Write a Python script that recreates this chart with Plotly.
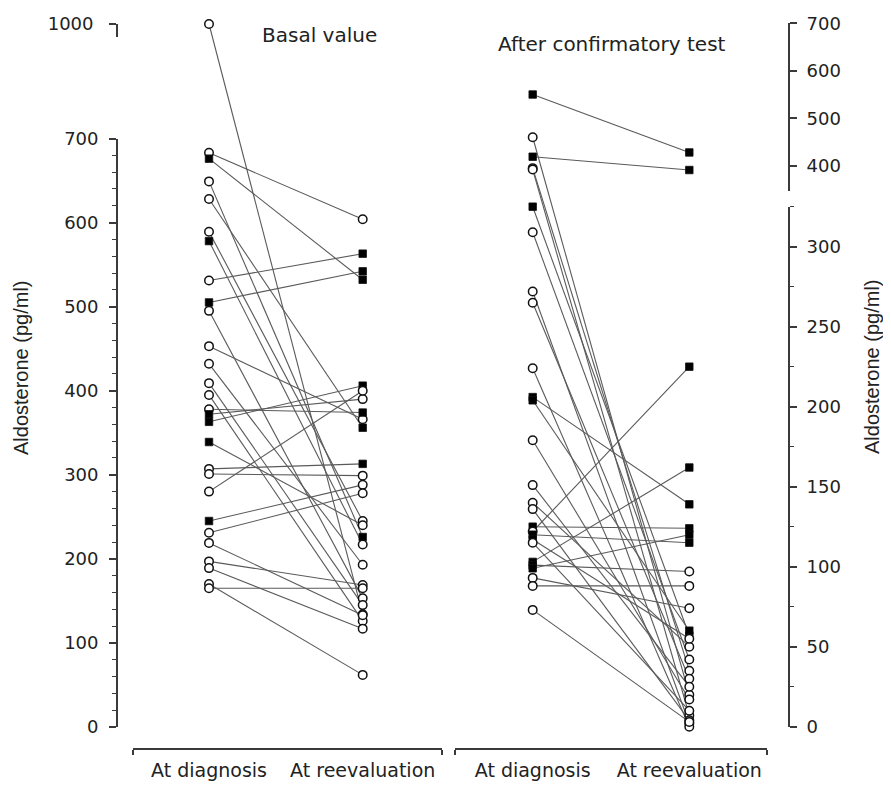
import plotly.graph_objects as go

# ---------------- data (pg/ml) ----------------
# Left panel: basal aldosterone
basal_diag = [1000, 683, 676, 649, 628, 589, 578, 531, 505, 495, 453, 432, 409, 395,
              378, 372, 363, 339, 307, 301, 280, 245, 231, 219, 197, 189, 170, 165]
basal_reev = [134, 604, 532, 226, 356, 245, 217, 563, 542, 153, 366, 193, 145, 126,
              374, 390, 406, 240, 313, 299, 400, 288, 278, 133, 169, 117, 62, 165]
basal_diag_filled = [0, 0, 1, 0, 0, 0, 1, 0, 1, 0, 0, 0, 0, 0,
                     0, 1, 1, 1, 0, 0, 0, 1, 0, 0, 0, 0, 0, 0]
basal_reev_filled = [0, 0, 1, 1, 1, 0, 0, 1, 1, 0, 0, 0, 0, 0,
                     1, 0, 1, 0, 1, 0, 0, 0, 0, 0, 0, 0, 0, 0]

# Right panel: after confirmatory test
conf_diag = [550, 460, 419, 395, 392, 325, 309, 272, 265, 224, 206, 204, 179, 151,
             140, 136, 125, 122, 120, 117, 115, 103, 101, 99, 93, 88, 73]
conf_reev = [428, 20, 391, 35, 7, 57, 42, 2, 30, 0, 139, 60, 17, 25,
             50, 4, 124, 225, 115, 55, 10, 162, 97, 120, 74, 88, 3]
conf_diag_filled = [1, 0, 1, 0, 0, 1, 0, 0, 0, 0, 1, 1, 0, 0,
                    0, 0, 1, 0, 1, 1, 0, 1, 1, 1, 0, 0, 0]
conf_reev_filled = [1, 0, 1, 0, 0, 1, 0, 0, 0, 0, 1, 1, 0, 0,
                    0, 0, 1, 1, 1, 0, 0, 1, 0, 1, 0, 0, 0]

categories = ["At diagnosis", "At reevaluation"]
left_ticks = [0, 100, 200, 300, 400, 500, 600, 700]
left_minor = [v for v in range(20, 700, 20) if v % 100]
right_low_ticks = [0, 50, 100, 150, 200, 250, 300]
right_low_minor = [25, 75, 125, 175, 225, 275]
right_up_ticks = [400, 500, 600, 700]

# ---------------- geometry (screen pixels; page body has an 8px margin) ----------------
OFF = 8
W, H = 891 - 2 * OFF, 790 - 2 * OFF   # keep page free of scrollbars
AX_L_X, AX_R_X = 117.0, 789.0       # y-axis line x positions (screen)
PLOT_TOP, PLOT_BOT = 18.0, 748.0    # plot area top / x-axis line (screen)
ML = AX_L_X - OFF
MR = W - (AX_R_X - OFF)
MT = PLOT_TOP - OFF
MB = H - (PLOT_BOT - OFF)
PW = AX_R_X - AX_L_X
PH = PLOT_BOT - PLOT_TOP

def fy(py):
    return (PLOT_BOT - py) / PH

def fx(px):
    return (px - AX_L_X) / PW

# left broken scale
Y0_L, Y700_L, Y1000_L = 727.0, 138.5, 24.0
sL = (Y0_L - Y700_L) / 700.0
L_UP = ((Y700_L - Y1000_L) / sL) / 300.0

def left_pos(v):
    return v if v <= 700 else 700 + (v - 700) * L_UP

# right broken scale
Y0_R, sR = 726.7, 1.6
Y350_R, sRU = 189.5, 0.475

def right_pos(v):
    if v <= 330:
        return v
    return (Y0_R - (Y350_R - (v - 350) * sRU)) / sR

# x geometry
XL0, XL1, XL_D, XL_R = 133.0, 441.7, 209.0, 362.7
XR0, XR1, XR_D, XR_R = 455.0, 767.0, 532.7, 689.3
dL = XL_R - XL_D
dR = XR_R - XR_D

LINE_COL = "#5a5a5a"
AX_COL = "#3a3a3a"
TXT_COL = "#222222"
FONT = "DejaVu Sans"

fig = go.Figure()

# dummy traces for decorative axes (drawn first)
for xa, ya in (("x", "y3"), ("x", "y4"), ("x2", "y5"), ("x2", "y6")):
    fig.add_trace(go.Scatter(x=[None], y=[None], xaxis=xa, yaxis=ya,
                             showlegend=False, hoverinfo="skip"))

def add_panel(diag, reev, dfill, rfill, pos, xa, ya):
    xs, ys = [], []
    for d, r in zip(diag, reev):
        xs += [0, 1, None]
        ys += [pos(d), pos(r), None]
    fig.add_trace(go.Scatter(x=xs, y=ys, mode="lines", xaxis=xa, yaxis=ya,
                             line=dict(color=LINE_COL, width=1.1),
                             hoverinfo="skip", showlegend=False))
    for col, vals, fills in ((0, diag, dfill), (1, reev, rfill)):
        sym = ["square" if f else "circle" for f in fills]
        colr = ["#000000" if f else "white" for f in fills]
        size = [7.5 if f else 8.5 for f in fills]
        lw = [0.8 if f else 1.5 for f in fills]
        fig.add_trace(go.Scatter(
            x=[col] * len(vals), y=[pos(v) for v in vals], mode="markers",
            xaxis=xa, yaxis=ya, cliponaxis=False,
            marker=dict(symbol=sym, color=colr, size=size, opacity=1,
                        line=dict(color="#111111", width=lw)),
            hoverinfo="skip", showlegend=False))

add_panel(basal_diag, basal_reev, basal_diag_filled, basal_reev_filled, left_pos, "x", "y")
add_panel(conf_diag, conf_reev, conf_diag_filled, conf_reev_filled, right_pos, "x2", "y2")

tickfont = dict(family=FONT, size=18, color=TXT_COL)

common_y = dict(showgrid=False, zeroline=False, showline=True, linecolor=AX_COL,
                linewidth=1.8, ticks="outside", ticklen=7, tickwidth=1.5,
                tickcolor=AX_COL, tickfont=tickfont, tickmode="array",
                fixedrange=True)

xL_range = [-(XL_D - XL0) / dL, 1 + (XL1 - XL_R) / dL]
xR_range = [-(XR_D - XR0) / dR, 1 + (XR1 - XR_R) / dR]

common_x = dict(showgrid=False, zeroline=False, showline=True, linecolor=AX_COL,
                linewidth=1.8, tickmode="array", tickvals=[0, 1], ticktext=categories,
                ticks="", tickfont=dict(family=FONT, size=19, color=TXT_COL),
                ticklabelstandoff=4, fixedrange=True)

fig.update_layout(
    width=W, height=H, margin=dict(l=ML, r=MR, t=MT, b=MB, autoexpand=False),
    paper_bgcolor="white", plot_bgcolor="rgba(0,0,0,0)", showlegend=False,
    xaxis=dict(domain=[fx(XL0), fx(XL1)], range=xL_range, anchor="y",
               minor=dict(tickmode="array", tickvals=xL_range, ticks="outside",
                          ticklen=5, tickwidth=1.5, tickcolor=AX_COL),
               **common_x),
    xaxis2=dict(domain=[fx(XR0), fx(XR1)], range=xR_range, anchor="y2",
                minor=dict(tickmode="array", tickvals=xR_range, ticks="outside",
                           ticklen=5, tickwidth=1.5, tickcolor=AX_COL),
                **common_x),
    yaxis=dict(domain=[0, 1], range=[-(PLOT_BOT - Y0_L) / sL, (Y0_L - PLOT_TOP) / sL],
               anchor="x", visible=False, fixedrange=True),
    yaxis2=dict(domain=[0, 1], range=[-(PLOT_BOT - Y0_R) / sR, (Y0_R - PLOT_TOP) / sR],
                anchor="x2", visible=False, fixedrange=True),
    yaxis3=dict(domain=[fy(Y0_L), fy(Y700_L)], range=[0, 700], anchor="free", position=0,
                tickvals=left_ticks, ticklabelstandoff=7,
                minor=dict(tickmode="array", tickvals=left_minor, ticks="outside",
                           ticklen=4, tickwidth=1.2, tickcolor=AX_COL),
                **common_y),
    yaxis4=dict(domain=[fy(37), fy(Y1000_L)], range=[0, 1], anchor="free", position=0,
                tickvals=[1], ticktext=["1000"], ticklabelstandoff=12, **common_y),
    yaxis5=dict(domain=[fy(190.7), fy(Y350_R - 350 * sRU)],
                range=[350 - (190.7 - Y350_R) / sRU, 700], anchor="free", position=1,
                side="right", tickvals=right_up_ticks, ticklabelstandoff=6, **common_y),
    yaxis6=dict(domain=[fy(Y0_R), fy(Y0_R - 325 * sR)], range=[0, 325], anchor="free",
                position=1, side="right", tickvals=right_low_ticks, ticklabelstandoff=6,
                minor=dict(tickmode="array", tickvals=right_low_minor + [325],
                           ticks="outside", ticklen=4, tickwidth=1.2, tickcolor=AX_COL),
                **common_y),
    annotations=[
        dict(text="Basal value", x=fx(319), y=fy(35), xref="paper", yref="paper",
             xanchor="center", yanchor="middle",
             showarrow=False, font=dict(family=FONT, size=20, color=TXT_COL)),
        dict(text="After confirmatory test", x=fx(612), y=fy(44), xref="paper", yref="paper",
             xanchor="center", yanchor="middle",
             showarrow=False, font=dict(family=FONT, size=20, color=TXT_COL)),
        dict(text="Aldosterone (pg/ml)", x=fx(21), y=fy(368), xref="paper", yref="paper",
             xanchor="center", yanchor="middle", textangle=-90, showarrow=False,
             font=dict(family="Liberation Sans", size=20, color=TXT_COL)),
        dict(text="Aldosterone (pg/ml)", x=fx(872), y=fy(366), xref="paper", yref="paper",
             xanchor="center", yanchor="middle", textangle=-90, showarrow=False,
             font=dict(family="Liberation Sans", size=20, color=TXT_COL)),
    ],
)

fig.write_html("out.html")
